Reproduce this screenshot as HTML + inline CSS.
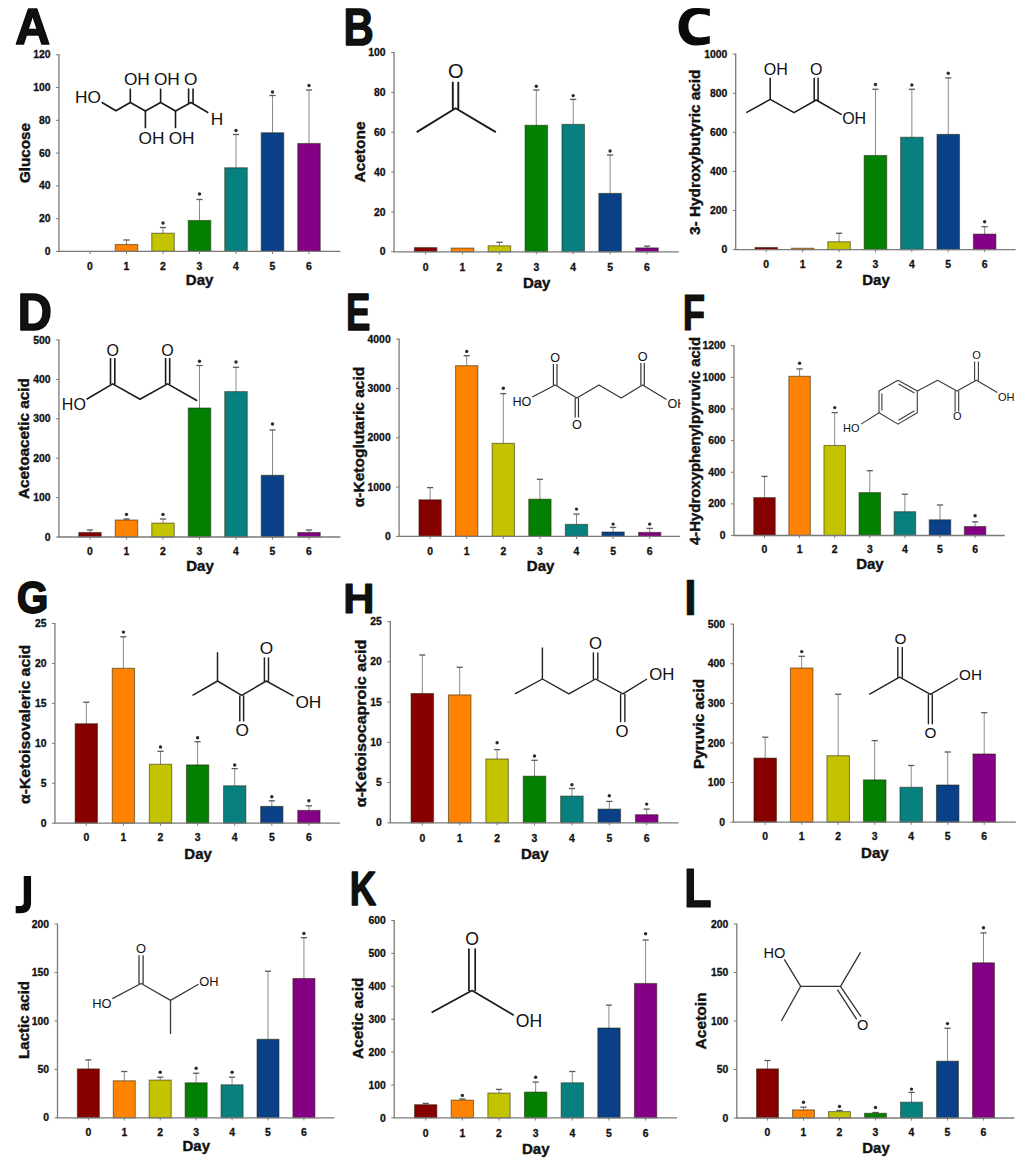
<!DOCTYPE html>
<html><head><meta charset="utf-8"><style>
html,body{margin:0;padding:0;background:#fff;overflow:hidden;width:1024px;height:1163px;}
svg{display:block;}
text{font-family:"Liberation Sans", sans-serif;fill:#111;}
.xl{font-size:10.4px;font-weight:bold;text-anchor:middle;stroke:#111;stroke-width:0.3px;}
.yl{font-size:10.4px;font-weight:bold;text-anchor:end;stroke:#111;stroke-width:0.3px;}
.ast{font-size:10px;font-weight:bold;text-anchor:middle;}
.day{font-size:15px;font-weight:bold;text-anchor:middle;stroke:#111;stroke-width:0.4px;}
.yt{font-size:15.4px;font-weight:bold;text-anchor:middle;stroke:#111;stroke-width:0.4px;}
.lt{font-weight:bold;fill:#000;}
.m{stroke:#111;stroke-width:1.6;fill:none;stroke-linecap:butt;}
.mt{font-size:15px;fill:#111;}
</style></head><body>
<svg width="1024" height="1163" viewBox="0 0 1024 1163">
<defs><clipPath id="clipE"><rect x="340" y="330" width="340.6" height="120"/></clipPath></defs>
<rect width="1024" height="1163" fill="#fff"/>
<g id="pA"><line x1="90" y1="251.4" x2="90" y2="254" stroke="#7a7a7a" stroke-width="1"/>
<text x="90" y="269.6" class="xl">0</text>
<line x1="126.5" y1="244.5" x2="126.5" y2="240" stroke="#8a8a8a" stroke-width="1"/>
<line x1="123.4" y1="240" x2="129.6" y2="240" stroke="#5a5a5a" stroke-width="1.3"/>
<rect x="115.25" y="244.5" width="22.5" height="6.9" fill="#ff8200" stroke="rgba(30,30,0,0.5)" stroke-width="1.1"/>
<line x1="126.5" y1="251.4" x2="126.5" y2="254" stroke="#7a7a7a" stroke-width="1"/>
<text x="126.5" y="269.6" class="xl">1</text>
<line x1="163" y1="233.25" x2="163" y2="227.5" stroke="#8a8a8a" stroke-width="1"/>
<line x1="159.9" y1="227.5" x2="166.1" y2="227.5" stroke="#5a5a5a" stroke-width="1.3"/>
<rect x="151.75" y="233.25" width="22.5" height="18.15" fill="#c4c300" stroke="rgba(30,30,0,0.5)" stroke-width="1.1"/>
<circle cx="163" cy="223" r="1.7" fill="#2a2a2a"/>
<line x1="163" y1="251.4" x2="163" y2="254" stroke="#7a7a7a" stroke-width="1"/>
<text x="163" y="269.6" class="xl">2</text>
<line x1="199.5" y1="220.5" x2="199.5" y2="199.5" stroke="#8a8a8a" stroke-width="1"/>
<line x1="196.4" y1="199.5" x2="202.6" y2="199.5" stroke="#5a5a5a" stroke-width="1.3"/>
<rect x="188.25" y="220.5" width="22.5" height="30.9" fill="#028002" stroke="rgba(30,30,0,0.5)" stroke-width="1.1"/>
<circle cx="199.5" cy="194" r="1.7" fill="#2a2a2a"/>
<line x1="199.5" y1="251.4" x2="199.5" y2="254" stroke="#7a7a7a" stroke-width="1"/>
<text x="199.5" y="269.6" class="xl">3</text>
<line x1="236" y1="167.75" x2="236" y2="134.5" stroke="#8a8a8a" stroke-width="1"/>
<line x1="232.9" y1="134.5" x2="239.1" y2="134.5" stroke="#5a5a5a" stroke-width="1.3"/>
<rect x="224.75" y="167.75" width="22.5" height="83.65" fill="#088080" stroke="rgba(30,30,0,0.5)" stroke-width="1.1"/>
<circle cx="236" cy="130.5" r="1.7" fill="#2a2a2a"/>
<line x1="236" y1="251.4" x2="236" y2="254" stroke="#7a7a7a" stroke-width="1"/>
<text x="236" y="269.6" class="xl">4</text>
<line x1="272.5" y1="132.75" x2="272.5" y2="95.5" stroke="#8a8a8a" stroke-width="1"/>
<line x1="269.4" y1="95.5" x2="275.6" y2="95.5" stroke="#5a5a5a" stroke-width="1.3"/>
<rect x="261.25" y="132.75" width="22.5" height="118.65" fill="#0a4088" stroke="rgba(30,30,0,0.5)" stroke-width="1.1"/>
<circle cx="272.5" cy="92" r="1.7" fill="#2a2a2a"/>
<line x1="272.5" y1="251.4" x2="272.5" y2="254" stroke="#7a7a7a" stroke-width="1"/>
<text x="272.5" y="269.6" class="xl">5</text>
<line x1="309" y1="143.5" x2="309" y2="90" stroke="#8a8a8a" stroke-width="1"/>
<line x1="305.9" y1="90" x2="312.1" y2="90" stroke="#5a5a5a" stroke-width="1.3"/>
<rect x="297.75" y="143.5" width="22.5" height="107.9" fill="#840084" stroke="rgba(30,30,0,0.5)" stroke-width="1.1"/>
<circle cx="309" cy="85.5" r="1.7" fill="#2a2a2a"/>
<line x1="309" y1="251.4" x2="309" y2="254" stroke="#7a7a7a" stroke-width="1"/>
<text x="309" y="269.6" class="xl">6</text>
<line x1="58.95" y1="54.3" x2="58.95" y2="251.4" stroke="#7a7a7a" stroke-width="1.3"/>
<line x1="58.3" y1="251.4" x2="340.4" y2="251.4" stroke="#7a7a7a" stroke-width="1.3"/>
<line x1="55.95" y1="251.4" x2="58.95" y2="251.4" stroke="#7a7a7a" stroke-width="1"/>
<text x="50.55" y="255" class="yl">0</text>
<line x1="55.95" y1="218.63" x2="58.95" y2="218.63" stroke="#7a7a7a" stroke-width="1"/>
<text x="50.55" y="222.23" class="yl">20</text>
<line x1="55.95" y1="185.87" x2="58.95" y2="185.87" stroke="#7a7a7a" stroke-width="1"/>
<text x="50.55" y="189.47" class="yl">40</text>
<line x1="55.95" y1="153.1" x2="58.95" y2="153.1" stroke="#7a7a7a" stroke-width="1"/>
<text x="50.55" y="156.7" class="yl">60</text>
<line x1="55.95" y1="120.33" x2="58.95" y2="120.33" stroke="#7a7a7a" stroke-width="1"/>
<text x="50.55" y="123.93" class="yl">80</text>
<line x1="55.95" y1="87.57" x2="58.95" y2="87.57" stroke="#7a7a7a" stroke-width="1"/>
<text x="50.55" y="91.17" class="yl">100</text>
<line x1="55.95" y1="54.8" x2="58.95" y2="54.8" stroke="#7a7a7a" stroke-width="1"/>
<text x="50.55" y="58.4" class="yl">120</text>
<text x="199.6" y="285" class="day">Day</text>
<text transform="translate(29.8,153) rotate(-90)" x="0" y="0" class="yt" textLength="60" lengthAdjust="spacingAndGlyphs">Glucose</text></g>
<text transform="translate(15.29,43.5) scale(0.964,1)" font-size="50" font-weight="bold" fill="#0a0a0a" stroke="#0a0a0a" stroke-width="1.6" stroke-linejoin="round">A</text>
<g><g fill="none" stroke="#1a1a1a" stroke-width="1.6" stroke-linecap="butt" stroke-linejoin="round"><path d="M101.6,102.2 L115.9,110.8 L130.3,102.5 L145.4,111 L160.6,102.5 L175.5,111 L191,102.5 L208.3,112.7"/><path d="M130.3,102.5 L130.3,88.6"/><path d="M160.6,102.5 L160.6,88.6"/><path d="M145.4,111 L145.4,128.2"/><path d="M175.5,111 L175.5,128.2"/><path d="M188.6,103.5 L188.6,88.4"/><path d="M193.05,103.5 L193.05,88.4"/></g><g fill="#1a1a1a"><text x="75.07" y="103.12" font-size="17.3">HO</text><text x="123.93" y="85.47" font-size="17.3">OH</text><text x="153.93" y="85.47" font-size="17.3">OH</text><text x="183.95" y="85.22" font-size="17.3">O</text><text x="210.87" y="124.52" font-size="17.3">H</text><text x="138.58" y="143.82" font-size="17.3">OH</text><text x="168.68" y="143.82" font-size="17.3">OH</text></g></g>
<g id="pB"><rect x="414.35" y="247.6" width="22.5" height="4.2" fill="#860000" stroke="rgba(30,30,0,0.5)" stroke-width="1.1"/>
<line x1="425.6" y1="251.8" x2="425.6" y2="254.4" stroke="#7a7a7a" stroke-width="1"/>
<text x="425.6" y="270.7" class="xl">0</text>
<rect x="451.25" y="248.1" width="22.5" height="3.7" fill="#ff8200" stroke="rgba(30,30,0,0.5)" stroke-width="1.1"/>
<line x1="462.5" y1="251.8" x2="462.5" y2="254.4" stroke="#7a7a7a" stroke-width="1"/>
<text x="462.5" y="270.7" class="xl">1</text>
<line x1="499.4" y1="245.8" x2="499.4" y2="242.3" stroke="#8a8a8a" stroke-width="1"/>
<line x1="496.3" y1="242.3" x2="502.5" y2="242.3" stroke="#5a5a5a" stroke-width="1.3"/>
<rect x="488.15" y="245.8" width="22.5" height="6" fill="#c4c300" stroke="rgba(30,30,0,0.5)" stroke-width="1.1"/>
<line x1="499.4" y1="251.8" x2="499.4" y2="254.4" stroke="#7a7a7a" stroke-width="1"/>
<text x="499.4" y="270.7" class="xl">2</text>
<line x1="536.3" y1="125.3" x2="536.3" y2="90" stroke="#8a8a8a" stroke-width="1"/>
<line x1="533.2" y1="90" x2="539.4" y2="90" stroke="#5a5a5a" stroke-width="1.3"/>
<rect x="525.05" y="125.3" width="22.5" height="126.5" fill="#028002" stroke="rgba(30,30,0,0.5)" stroke-width="1.1"/>
<circle cx="536.3" cy="86.25" r="1.7" fill="#2a2a2a"/>
<line x1="536.3" y1="251.8" x2="536.3" y2="254.4" stroke="#7a7a7a" stroke-width="1"/>
<text x="536.3" y="270.7" class="xl">3</text>
<line x1="573.2" y1="124.4" x2="573.2" y2="99.4" stroke="#8a8a8a" stroke-width="1"/>
<line x1="570.1" y1="99.4" x2="576.3" y2="99.4" stroke="#5a5a5a" stroke-width="1.3"/>
<rect x="561.95" y="124.4" width="22.5" height="127.4" fill="#088080" stroke="rgba(30,30,0,0.5)" stroke-width="1.1"/>
<circle cx="573.2" cy="95.6" r="1.7" fill="#2a2a2a"/>
<line x1="573.2" y1="251.8" x2="573.2" y2="254.4" stroke="#7a7a7a" stroke-width="1"/>
<text x="573.2" y="270.7" class="xl">4</text>
<line x1="610.1" y1="193.4" x2="610.1" y2="155" stroke="#8a8a8a" stroke-width="1"/>
<line x1="607" y1="155" x2="613.2" y2="155" stroke="#5a5a5a" stroke-width="1.3"/>
<rect x="598.85" y="193.4" width="22.5" height="58.4" fill="#0a4088" stroke="rgba(30,30,0,0.5)" stroke-width="1.1"/>
<circle cx="610.1" cy="151" r="1.7" fill="#2a2a2a"/>
<line x1="610.1" y1="251.8" x2="610.1" y2="254.4" stroke="#7a7a7a" stroke-width="1"/>
<text x="610.1" y="270.7" class="xl">5</text>
<line x1="647" y1="247.9" x2="647" y2="246.1" stroke="#8a8a8a" stroke-width="1"/>
<line x1="643.9" y1="246.1" x2="650.1" y2="246.1" stroke="#5a5a5a" stroke-width="1.3"/>
<rect x="635.75" y="247.9" width="22.5" height="3.9" fill="#840084" stroke="rgba(30,30,0,0.5)" stroke-width="1.1"/>
<line x1="647" y1="251.8" x2="647" y2="254.4" stroke="#7a7a7a" stroke-width="1"/>
<text x="647" y="270.7" class="xl">6</text>
<line x1="394.05" y1="52" x2="394.05" y2="251.8" stroke="#7a7a7a" stroke-width="1.3"/>
<line x1="393.4" y1="251.8" x2="678.8" y2="251.8" stroke="#7a7a7a" stroke-width="1.3"/>
<line x1="391.05" y1="251.8" x2="394.05" y2="251.8" stroke="#7a7a7a" stroke-width="1"/>
<text x="385.65" y="255.4" class="yl">0</text>
<line x1="391.05" y1="211.94" x2="394.05" y2="211.94" stroke="#7a7a7a" stroke-width="1"/>
<text x="385.65" y="215.54" class="yl">20</text>
<line x1="391.05" y1="172.08" x2="394.05" y2="172.08" stroke="#7a7a7a" stroke-width="1"/>
<text x="385.65" y="175.68" class="yl">40</text>
<line x1="391.05" y1="132.22" x2="394.05" y2="132.22" stroke="#7a7a7a" stroke-width="1"/>
<text x="385.65" y="135.82" class="yl">60</text>
<line x1="391.05" y1="92.36" x2="394.05" y2="92.36" stroke="#7a7a7a" stroke-width="1"/>
<text x="385.65" y="95.96" class="yl">80</text>
<line x1="391.05" y1="52.5" x2="394.05" y2="52.5" stroke="#7a7a7a" stroke-width="1"/>
<text x="385.65" y="56.1" class="yl">100</text>
<text x="536.65" y="288.3" class="day">Day</text>
<text transform="translate(365.4,152) rotate(-90)" x="0" y="0" class="yt" textLength="61" lengthAdjust="spacingAndGlyphs">Acetone</text></g>
<text transform="translate(343.47,44.5) scale(0.807,1)" font-size="52.03" font-weight="bold" fill="#0a0a0a" stroke="#0a0a0a" stroke-width="1.4" stroke-linejoin="round">B</text>
<g><g fill="none" stroke="#1a1a1a" stroke-width="1.9" stroke-linecap="butt" stroke-linejoin="round"><path d="M416.7,132.1 L455.6,108.2 L495.8,132.1"/><path d="M452.8,109 L452.8,81.8"/><path d="M458.3,109 L458.3,81.8"/></g><g fill="#1a1a1a"><text x="448.1" y="78.35" font-size="20">O</text></g></g>
<g id="pC"><rect x="755" y="247.5" width="22.5" height="2.1" fill="#860000" stroke="rgba(30,30,0,0.5)" stroke-width="1.1"/>
<line x1="766.25" y1="249.6" x2="766.25" y2="252.2" stroke="#7a7a7a" stroke-width="1"/>
<text x="766.25" y="267.95" class="xl">0</text>
<rect x="791.4" y="248.25" width="22.5" height="1.35" fill="#ff8200" stroke="rgba(30,30,0,0.5)" stroke-width="1.1"/>
<line x1="802.65" y1="249.6" x2="802.65" y2="252.2" stroke="#7a7a7a" stroke-width="1"/>
<text x="802.65" y="267.95" class="xl">1</text>
<line x1="839.05" y1="241.75" x2="839.05" y2="233.25" stroke="#8a8a8a" stroke-width="1"/>
<line x1="835.95" y1="233.25" x2="842.15" y2="233.25" stroke="#5a5a5a" stroke-width="1.3"/>
<rect x="827.8" y="241.75" width="22.5" height="7.85" fill="#c4c300" stroke="rgba(30,30,0,0.5)" stroke-width="1.1"/>
<line x1="839.05" y1="249.6" x2="839.05" y2="252.2" stroke="#7a7a7a" stroke-width="1"/>
<text x="839.05" y="267.95" class="xl">2</text>
<line x1="875.45" y1="155.5" x2="875.45" y2="89.25" stroke="#8a8a8a" stroke-width="1"/>
<line x1="872.35" y1="89.25" x2="878.55" y2="89.25" stroke="#5a5a5a" stroke-width="1.3"/>
<rect x="864.2" y="155.5" width="22.5" height="94.1" fill="#028002" stroke="rgba(30,30,0,0.5)" stroke-width="1.1"/>
<circle cx="875.45" cy="84.5" r="1.7" fill="#2a2a2a"/>
<line x1="875.45" y1="249.6" x2="875.45" y2="252.2" stroke="#7a7a7a" stroke-width="1"/>
<text x="875.45" y="267.95" class="xl">3</text>
<line x1="911.85" y1="137.25" x2="911.85" y2="89.25" stroke="#8a8a8a" stroke-width="1"/>
<line x1="908.75" y1="89.25" x2="914.95" y2="89.25" stroke="#5a5a5a" stroke-width="1.3"/>
<rect x="900.6" y="137.25" width="22.5" height="112.35" fill="#088080" stroke="rgba(30,30,0,0.5)" stroke-width="1.1"/>
<circle cx="911.85" cy="85" r="1.7" fill="#2a2a2a"/>
<line x1="911.85" y1="249.6" x2="911.85" y2="252.2" stroke="#7a7a7a" stroke-width="1"/>
<text x="911.85" y="267.95" class="xl">4</text>
<line x1="948.25" y1="134.4" x2="948.25" y2="77.9" stroke="#8a8a8a" stroke-width="1"/>
<line x1="945.15" y1="77.9" x2="951.35" y2="77.9" stroke="#5a5a5a" stroke-width="1.3"/>
<rect x="937" y="134.4" width="22.5" height="115.2" fill="#0a4088" stroke="rgba(30,30,0,0.5)" stroke-width="1.1"/>
<circle cx="948.25" cy="73.2" r="1.7" fill="#2a2a2a"/>
<line x1="948.25" y1="249.6" x2="948.25" y2="252.2" stroke="#7a7a7a" stroke-width="1"/>
<text x="948.25" y="267.95" class="xl">5</text>
<line x1="984.65" y1="234.1" x2="984.65" y2="226.7" stroke="#8a8a8a" stroke-width="1"/>
<line x1="981.55" y1="226.7" x2="987.75" y2="226.7" stroke="#5a5a5a" stroke-width="1.3"/>
<rect x="973.4" y="234.1" width="22.5" height="15.5" fill="#840084" stroke="rgba(30,30,0,0.5)" stroke-width="1.1"/>
<circle cx="984.65" cy="221.7" r="1.7" fill="#2a2a2a"/>
<line x1="984.65" y1="249.6" x2="984.65" y2="252.2" stroke="#7a7a7a" stroke-width="1"/>
<text x="984.65" y="267.95" class="xl">6</text>
<line x1="735.7" y1="53.6" x2="735.7" y2="249.6" stroke="#7a7a7a" stroke-width="1.3"/>
<line x1="735.05" y1="249.6" x2="1015.6" y2="249.6" stroke="#7a7a7a" stroke-width="1.3"/>
<line x1="732.7" y1="249.6" x2="735.7" y2="249.6" stroke="#7a7a7a" stroke-width="1"/>
<text x="727.3" y="253.2" class="yl">0</text>
<line x1="732.7" y1="210.5" x2="735.7" y2="210.5" stroke="#7a7a7a" stroke-width="1"/>
<text x="727.3" y="214.1" class="yl">200</text>
<line x1="732.7" y1="171.4" x2="735.7" y2="171.4" stroke="#7a7a7a" stroke-width="1"/>
<text x="727.3" y="175" class="yl">400</text>
<line x1="732.7" y1="132.3" x2="735.7" y2="132.3" stroke="#7a7a7a" stroke-width="1"/>
<text x="727.3" y="135.9" class="yl">600</text>
<line x1="732.7" y1="93.2" x2="735.7" y2="93.2" stroke="#7a7a7a" stroke-width="1"/>
<text x="727.3" y="96.8" class="yl">800</text>
<line x1="732.7" y1="54.1" x2="735.7" y2="54.1" stroke="#7a7a7a" stroke-width="1"/>
<text x="727.3" y="57.7" class="yl">1000</text>
<text x="876" y="285.1" class="day">Day</text>
<text transform="translate(700.15,152.25) rotate(-90)" x="0" y="0" class="yt" textLength="165.5" lengthAdjust="spacingAndGlyphs">3- Hydroxybutyric acid</text></g>
<path d="M709.8,8.9 C705,8 700,7.9 695.5,7.9 C685,7.9 678.5,15.5 678.5,26.7 C678.5,38.5 686,45.4 696,45.4 C701,45.4 706,44.7 709.8,43.5 L709.8,36.1 C707,37 703,37.5 699.5,37.5 C692.5,37.5 688.4,33 688.4,26.2 C688.4,19 692.8,14.1 699.5,14.1 C703,14.1 706.5,14.8 709.8,16.2 Z" fill="#0a0a0a"/>
<g><g fill="none" stroke="#1a1a1a" stroke-width="1.5" stroke-linecap="butt" stroke-linejoin="round"><path d="M746.3,112.7 L770.2,99.4 L794,112.7 L816.2,100 L841.6,114.6"/><path d="M770.2,99.4 L770.2,77.8"/><path d="M814.2,101 L814.2,77.7"/><path d="M818.1,101 L818.1,77.7"/></g><g fill="#1a1a1a"><text x="763.83" y="74.72" font-size="16">OH</text><text x="810.1" y="74.57" font-size="16">O</text><text x="842.18" y="124.22" font-size="16">OH</text></g></g>
<g id="pD"><line x1="90" y1="532.5" x2="90" y2="530" stroke="#8a8a8a" stroke-width="1"/>
<line x1="86.9" y1="530" x2="93.1" y2="530" stroke="#5a5a5a" stroke-width="1.3"/>
<rect x="78.75" y="532.5" width="22.5" height="4.5" fill="#860000" stroke="rgba(30,30,0,0.5)" stroke-width="1.1"/>
<line x1="90" y1="537" x2="90" y2="539.6" stroke="#7a7a7a" stroke-width="1"/>
<text x="90" y="554.85" class="xl">0</text>
<line x1="126.5" y1="520" x2="126.5" y2="519" stroke="#8a8a8a" stroke-width="1"/>
<line x1="123.4" y1="519" x2="129.6" y2="519" stroke="#5a5a5a" stroke-width="1.3"/>
<rect x="115.25" y="520" width="22.5" height="17" fill="#ff8200" stroke="rgba(30,30,0,0.5)" stroke-width="1.1"/>
<circle cx="126.5" cy="514.4" r="1.7" fill="#2a2a2a"/>
<line x1="126.5" y1="537" x2="126.5" y2="539.6" stroke="#7a7a7a" stroke-width="1"/>
<text x="126.5" y="554.85" class="xl">1</text>
<line x1="163" y1="523.1" x2="163" y2="519" stroke="#8a8a8a" stroke-width="1"/>
<line x1="159.9" y1="519" x2="166.1" y2="519" stroke="#5a5a5a" stroke-width="1.3"/>
<rect x="151.75" y="523.1" width="22.5" height="13.9" fill="#c4c300" stroke="rgba(30,30,0,0.5)" stroke-width="1.1"/>
<circle cx="163" cy="514.4" r="1.7" fill="#2a2a2a"/>
<line x1="163" y1="537" x2="163" y2="539.6" stroke="#7a7a7a" stroke-width="1"/>
<text x="163" y="554.85" class="xl">2</text>
<line x1="199.5" y1="408" x2="199.5" y2="365.5" stroke="#8a8a8a" stroke-width="1"/>
<line x1="196.4" y1="365.5" x2="202.6" y2="365.5" stroke="#5a5a5a" stroke-width="1.3"/>
<rect x="188.25" y="408" width="22.5" height="129" fill="#028002" stroke="rgba(30,30,0,0.5)" stroke-width="1.1"/>
<circle cx="199.5" cy="361.3" r="1.7" fill="#2a2a2a"/>
<line x1="199.5" y1="537" x2="199.5" y2="539.6" stroke="#7a7a7a" stroke-width="1"/>
<text x="199.5" y="554.85" class="xl">3</text>
<line x1="236" y1="391.6" x2="236" y2="367.3" stroke="#8a8a8a" stroke-width="1"/>
<line x1="232.9" y1="367.3" x2="239.1" y2="367.3" stroke="#5a5a5a" stroke-width="1.3"/>
<rect x="224.75" y="391.6" width="22.5" height="145.4" fill="#088080" stroke="rgba(30,30,0,0.5)" stroke-width="1.1"/>
<circle cx="236" cy="362" r="1.7" fill="#2a2a2a"/>
<line x1="236" y1="537" x2="236" y2="539.6" stroke="#7a7a7a" stroke-width="1"/>
<text x="236" y="554.85" class="xl">4</text>
<line x1="272.5" y1="475.3" x2="272.5" y2="430" stroke="#8a8a8a" stroke-width="1"/>
<line x1="269.4" y1="430" x2="275.6" y2="430" stroke="#5a5a5a" stroke-width="1.3"/>
<rect x="261.25" y="475.3" width="22.5" height="61.7" fill="#0a4088" stroke="rgba(30,30,0,0.5)" stroke-width="1.1"/>
<circle cx="272.5" cy="424" r="1.7" fill="#2a2a2a"/>
<line x1="272.5" y1="537" x2="272.5" y2="539.6" stroke="#7a7a7a" stroke-width="1"/>
<text x="272.5" y="554.85" class="xl">5</text>
<line x1="309" y1="532.5" x2="309" y2="530" stroke="#8a8a8a" stroke-width="1"/>
<line x1="305.9" y1="530" x2="312.1" y2="530" stroke="#5a5a5a" stroke-width="1.3"/>
<rect x="297.75" y="532.5" width="22.5" height="4.5" fill="#840084" stroke="rgba(30,30,0,0.5)" stroke-width="1.1"/>
<line x1="309" y1="537" x2="309" y2="539.6" stroke="#7a7a7a" stroke-width="1"/>
<text x="309" y="554.85" class="xl">6</text>
<line x1="58.95" y1="339.5" x2="58.95" y2="537" stroke="#7a7a7a" stroke-width="1.3"/>
<line x1="58.3" y1="537" x2="340.4" y2="537" stroke="#7a7a7a" stroke-width="1.3"/>
<line x1="55.95" y1="537" x2="58.95" y2="537" stroke="#7a7a7a" stroke-width="1"/>
<text x="50.55" y="540.6" class="yl">0</text>
<line x1="55.95" y1="497.6" x2="58.95" y2="497.6" stroke="#7a7a7a" stroke-width="1"/>
<text x="50.55" y="501.2" class="yl">100</text>
<line x1="55.95" y1="458.2" x2="58.95" y2="458.2" stroke="#7a7a7a" stroke-width="1"/>
<text x="50.55" y="461.8" class="yl">200</text>
<line x1="55.95" y1="418.8" x2="58.95" y2="418.8" stroke="#7a7a7a" stroke-width="1"/>
<text x="50.55" y="422.4" class="yl">300</text>
<line x1="55.95" y1="379.4" x2="58.95" y2="379.4" stroke="#7a7a7a" stroke-width="1"/>
<text x="50.55" y="383" class="yl">400</text>
<line x1="55.95" y1="340" x2="58.95" y2="340" stroke="#7a7a7a" stroke-width="1"/>
<text x="50.55" y="343.6" class="yl">500</text>
<text x="200" y="571.2" class="day">Day</text>
<text transform="translate(28.6,438.6) rotate(-90)" x="0" y="0" class="yt" textLength="121" lengthAdjust="spacingAndGlyphs">Acetoacetic acid</text></g>
<text transform="translate(17.72,329.7) scale(0.922,1)" font-size="51.3" font-weight="bold" fill="#0a0a0a" stroke="#0a0a0a" stroke-width="1.6" stroke-linejoin="round">D</text>
<g><g fill="none" stroke="#1a1a1a" stroke-width="1.6" stroke-linecap="butt" stroke-linejoin="round"><path d="M86.6,399.3 L112.7,383.9 L140,399.3 L167.6,383.9 L197.2,400.8"/><path d="M110.5,384.5 L110.5,358"/><path d="M114.8,384.5 L114.8,358"/><path d="M165.6,384.5 L165.6,358"/><path d="M169.7,384.5 L169.7,358"/></g><g fill="#1a1a1a"><text x="106.55" y="355.67" font-size="16">O</text><text x="161.3" y="355.67" font-size="16">O</text><text x="61.86" y="409.97" font-size="16">HO</text></g></g>
<g id="pE"><line x1="430.1" y1="499.8" x2="430.1" y2="487.6" stroke="#8a8a8a" stroke-width="1"/>
<line x1="427" y1="487.6" x2="433.2" y2="487.6" stroke="#5a5a5a" stroke-width="1.3"/>
<rect x="418.95" y="499.8" width="22.3" height="36.6" fill="#860000" stroke="rgba(30,30,0,0.5)" stroke-width="1.1"/>
<line x1="430.1" y1="536.4" x2="430.1" y2="539" stroke="#7a7a7a" stroke-width="1"/>
<text x="430.1" y="554.6" class="xl">0</text>
<line x1="466.7" y1="365.7" x2="466.7" y2="355.7" stroke="#8a8a8a" stroke-width="1"/>
<line x1="463.6" y1="355.7" x2="469.8" y2="355.7" stroke="#5a5a5a" stroke-width="1.3"/>
<rect x="455.55" y="365.7" width="22.3" height="170.7" fill="#ff8200" stroke="rgba(30,30,0,0.5)" stroke-width="1.1"/>
<circle cx="466.7" cy="351.4" r="1.7" fill="#2a2a2a"/>
<line x1="466.7" y1="536.4" x2="466.7" y2="539" stroke="#7a7a7a" stroke-width="1"/>
<text x="466.7" y="554.6" class="xl">1</text>
<line x1="503.3" y1="443.4" x2="503.3" y2="393.6" stroke="#8a8a8a" stroke-width="1"/>
<line x1="500.2" y1="393.6" x2="506.4" y2="393.6" stroke="#5a5a5a" stroke-width="1.3"/>
<rect x="492.15" y="443.4" width="22.3" height="93" fill="#c4c300" stroke="rgba(30,30,0,0.5)" stroke-width="1.1"/>
<circle cx="503.3" cy="388.3" r="1.7" fill="#2a2a2a"/>
<line x1="503.3" y1="536.4" x2="503.3" y2="539" stroke="#7a7a7a" stroke-width="1"/>
<text x="503.3" y="554.6" class="xl">2</text>
<line x1="539.9" y1="499.2" x2="539.9" y2="479.3" stroke="#8a8a8a" stroke-width="1"/>
<line x1="536.8" y1="479.3" x2="543" y2="479.3" stroke="#5a5a5a" stroke-width="1.3"/>
<rect x="528.75" y="499.2" width="22.3" height="37.2" fill="#028002" stroke="rgba(30,30,0,0.5)" stroke-width="1.1"/>
<line x1="539.9" y1="536.4" x2="539.9" y2="539" stroke="#7a7a7a" stroke-width="1"/>
<text x="539.9" y="554.6" class="xl">3</text>
<line x1="576.5" y1="524.4" x2="576.5" y2="514.1" stroke="#8a8a8a" stroke-width="1"/>
<line x1="573.4" y1="514.1" x2="579.6" y2="514.1" stroke="#5a5a5a" stroke-width="1.3"/>
<rect x="565.35" y="524.4" width="22.3" height="12" fill="#088080" stroke="rgba(30,30,0,0.5)" stroke-width="1.1"/>
<circle cx="576.5" cy="509.1" r="1.7" fill="#2a2a2a"/>
<line x1="576.5" y1="536.4" x2="576.5" y2="539" stroke="#7a7a7a" stroke-width="1"/>
<text x="576.5" y="554.6" class="xl">4</text>
<line x1="613.1" y1="532" x2="613.1" y2="527.4" stroke="#8a8a8a" stroke-width="1"/>
<line x1="610" y1="527.4" x2="616.2" y2="527.4" stroke="#5a5a5a" stroke-width="1.3"/>
<rect x="601.95" y="532" width="22.3" height="4.4" fill="#0a4088" stroke="rgba(30,30,0,0.5)" stroke-width="1.1"/>
<circle cx="613.1" cy="524.1" r="1.7" fill="#2a2a2a"/>
<line x1="613.1" y1="536.4" x2="613.1" y2="539" stroke="#7a7a7a" stroke-width="1"/>
<text x="613.1" y="554.6" class="xl">5</text>
<line x1="649.7" y1="532.4" x2="649.7" y2="528.4" stroke="#8a8a8a" stroke-width="1"/>
<line x1="646.6" y1="528.4" x2="652.8" y2="528.4" stroke="#5a5a5a" stroke-width="1.3"/>
<rect x="638.55" y="532.4" width="22.3" height="4" fill="#840084" stroke="rgba(30,30,0,0.5)" stroke-width="1.1"/>
<circle cx="649.7" cy="524.1" r="1.7" fill="#2a2a2a"/>
<line x1="649.7" y1="536.4" x2="649.7" y2="539" stroke="#7a7a7a" stroke-width="1"/>
<text x="649.7" y="554.6" class="xl">6</text>
<line x1="399.1" y1="338.6" x2="399.1" y2="536.4" stroke="#7a7a7a" stroke-width="1.3"/>
<line x1="398.45" y1="536.4" x2="680.1" y2="536.4" stroke="#7a7a7a" stroke-width="1.3"/>
<line x1="396.1" y1="536.4" x2="399.1" y2="536.4" stroke="#7a7a7a" stroke-width="1"/>
<text x="390.7" y="540" class="yl">0</text>
<line x1="396.1" y1="487.07" x2="399.1" y2="487.07" stroke="#7a7a7a" stroke-width="1"/>
<text x="390.7" y="490.68" class="yl">1000</text>
<line x1="396.1" y1="437.75" x2="399.1" y2="437.75" stroke="#7a7a7a" stroke-width="1"/>
<text x="390.7" y="441.35" class="yl">2000</text>
<line x1="396.1" y1="388.43" x2="399.1" y2="388.43" stroke="#7a7a7a" stroke-width="1"/>
<text x="390.7" y="392.03" class="yl">3000</text>
<line x1="396.1" y1="339.1" x2="399.1" y2="339.1" stroke="#7a7a7a" stroke-width="1"/>
<text x="390.7" y="342.7" class="yl">4000</text>
<text x="540.6" y="571" class="day">Day</text>
<text transform="translate(363.7,437) rotate(-90)" x="0" y="0" class="yt" textLength="140.5" lengthAdjust="spacingAndGlyphs">α-Ketoglutaric acid</text></g>
<text transform="translate(345.97,329.5) scale(0.714,1)" font-size="51.16" font-weight="bold" fill="#0a0a0a" stroke="#0a0a0a" stroke-width="1.4" stroke-linejoin="round">E</text>
<g clip-path="url(#clipE)"><g fill="none" stroke="#333" stroke-width="1.2" stroke-linecap="butt" stroke-linejoin="round"><path d="M532.3,397 L555.2,385 L576.8,397.9 L599,385 L621.2,397.9 L642.6,385 L666.5,399.6"/><path d="M553.4,385.6 L553.4,364.1"/><path d="M557,385.6 L557,364.1"/><path d="M575.2,397.9 L575.2,417.5"/><path d="M578.5,397.9 L578.5,417.5"/><path d="M640.9,385.6 L640.9,363"/><path d="M644.3,385.6 L644.3,363"/></g><g fill="#333"><text x="550.22" y="361.55" font-size="12.6">O</text><text x="637.72" y="360.65" font-size="12.6">O</text><text x="572.12" y="428.5" font-size="12.6">O</text><text x="512.46" y="405.9" font-size="12.6">HO</text><text x="667.47" y="407.55" font-size="12.6">OH</text></g></g>
<g id="pF"><line x1="764.5" y1="497.6" x2="764.5" y2="476.4" stroke="#8a8a8a" stroke-width="1"/>
<line x1="761.4" y1="476.4" x2="767.6" y2="476.4" stroke="#5a5a5a" stroke-width="1.3"/>
<rect x="753.75" y="497.6" width="21.5" height="37.9" fill="#860000" stroke="rgba(30,30,0,0.5)" stroke-width="1.1"/>
<line x1="764.5" y1="535.5" x2="764.5" y2="538.1" stroke="#7a7a7a" stroke-width="1"/>
<text x="764.5" y="553.15" class="xl">0</text>
<line x1="799.6" y1="376.3" x2="799.6" y2="368.9" stroke="#8a8a8a" stroke-width="1"/>
<line x1="796.5" y1="368.9" x2="802.7" y2="368.9" stroke="#5a5a5a" stroke-width="1.3"/>
<rect x="788.85" y="376.3" width="21.5" height="159.2" fill="#ff8200" stroke="rgba(30,30,0,0.5)" stroke-width="1.1"/>
<circle cx="799.6" cy="363.2" r="1.7" fill="#2a2a2a"/>
<line x1="799.6" y1="535.5" x2="799.6" y2="538.1" stroke="#7a7a7a" stroke-width="1"/>
<text x="799.6" y="553.15" class="xl">1</text>
<line x1="834.7" y1="445.5" x2="834.7" y2="412.6" stroke="#8a8a8a" stroke-width="1"/>
<line x1="831.6" y1="412.6" x2="837.8" y2="412.6" stroke="#5a5a5a" stroke-width="1.3"/>
<rect x="823.95" y="445.5" width="21.5" height="90" fill="#c4c300" stroke="rgba(30,30,0,0.5)" stroke-width="1.1"/>
<circle cx="834.7" cy="407.6" r="1.7" fill="#2a2a2a"/>
<line x1="834.7" y1="535.5" x2="834.7" y2="538.1" stroke="#7a7a7a" stroke-width="1"/>
<text x="834.7" y="553.15" class="xl">2</text>
<line x1="869.8" y1="492.6" x2="869.8" y2="470.7" stroke="#8a8a8a" stroke-width="1"/>
<line x1="866.7" y1="470.7" x2="872.9" y2="470.7" stroke="#5a5a5a" stroke-width="1.3"/>
<rect x="859.05" y="492.6" width="21.5" height="42.9" fill="#028002" stroke="rgba(30,30,0,0.5)" stroke-width="1.1"/>
<line x1="869.8" y1="535.5" x2="869.8" y2="538.1" stroke="#7a7a7a" stroke-width="1"/>
<text x="869.8" y="553.15" class="xl">3</text>
<line x1="904.9" y1="511.7" x2="904.9" y2="494.2" stroke="#8a8a8a" stroke-width="1"/>
<line x1="901.8" y1="494.2" x2="908" y2="494.2" stroke="#5a5a5a" stroke-width="1.3"/>
<rect x="894.15" y="511.7" width="21.5" height="23.8" fill="#088080" stroke="rgba(30,30,0,0.5)" stroke-width="1.1"/>
<line x1="904.9" y1="535.5" x2="904.9" y2="538.1" stroke="#7a7a7a" stroke-width="1"/>
<text x="904.9" y="553.15" class="xl">4</text>
<line x1="940" y1="519.8" x2="940" y2="505" stroke="#8a8a8a" stroke-width="1"/>
<line x1="936.9" y1="505" x2="943.1" y2="505" stroke="#5a5a5a" stroke-width="1.3"/>
<rect x="929.25" y="519.8" width="21.5" height="15.7" fill="#0a4088" stroke="rgba(30,30,0,0.5)" stroke-width="1.1"/>
<line x1="940" y1="535.5" x2="940" y2="538.1" stroke="#7a7a7a" stroke-width="1"/>
<text x="940" y="553.15" class="xl">5</text>
<line x1="975.1" y1="526.5" x2="975.1" y2="521.8" stroke="#8a8a8a" stroke-width="1"/>
<line x1="972" y1="521.8" x2="978.2" y2="521.8" stroke="#5a5a5a" stroke-width="1.3"/>
<rect x="964.35" y="526.5" width="21.5" height="9" fill="#840084" stroke="rgba(30,30,0,0.5)" stroke-width="1.1"/>
<circle cx="975.1" cy="515.7" r="1.7" fill="#2a2a2a"/>
<line x1="975.1" y1="535.5" x2="975.1" y2="538.1" stroke="#7a7a7a" stroke-width="1"/>
<text x="975.1" y="553.15" class="xl">6</text>
<line x1="734" y1="345.25" x2="734" y2="535.5" stroke="#7a7a7a" stroke-width="1.3"/>
<line x1="733.35" y1="535.5" x2="1004.8" y2="535.5" stroke="#7a7a7a" stroke-width="1.3"/>
<line x1="731" y1="535.5" x2="734" y2="535.5" stroke="#7a7a7a" stroke-width="1"/>
<text x="725.6" y="539.1" class="yl">0</text>
<line x1="731" y1="503.88" x2="734" y2="503.88" stroke="#7a7a7a" stroke-width="1"/>
<text x="725.6" y="507.48" class="yl">200</text>
<line x1="731" y1="472.25" x2="734" y2="472.25" stroke="#7a7a7a" stroke-width="1"/>
<text x="725.6" y="475.85" class="yl">400</text>
<line x1="731" y1="440.62" x2="734" y2="440.62" stroke="#7a7a7a" stroke-width="1"/>
<text x="725.6" y="444.23" class="yl">600</text>
<line x1="731" y1="409" x2="734" y2="409" stroke="#7a7a7a" stroke-width="1"/>
<text x="725.6" y="412.6" class="yl">800</text>
<line x1="731" y1="377.38" x2="734" y2="377.38" stroke="#7a7a7a" stroke-width="1"/>
<text x="725.6" y="380.98" class="yl">1000</text>
<line x1="731" y1="345.75" x2="734" y2="345.75" stroke="#7a7a7a" stroke-width="1"/>
<text x="725.6" y="349.35" class="yl">1200</text>
<text x="869.95" y="568.8" class="day">Day</text>
<text transform="translate(700.4,441) rotate(-90)" x="0" y="0" class="yt" textLength="208" lengthAdjust="spacingAndGlyphs">4-Hydroxyphenylpyruvic acid</text></g>
<text transform="translate(682.72,329.6) scale(0.724,1)" font-size="50.51" font-weight="bold" fill="#0a0a0a" stroke="#0a0a0a" stroke-width="1.2" stroke-linejoin="round">F</text>
<g><g fill="none" stroke="#3a3a3a" stroke-width="1.1" stroke-linecap="butt" stroke-linejoin="round"><path d="M898,380.2 L917.3,391.1 L917.3,412.7 L898,424.1 L879,412.7 L879,391.1 L898,380.2"/><path d="M898.5,383.9 L914.5,393"/><path d="M914.5,410.8 L898.5,420.3"/><path d="M881.9,393.5 L881.9,410.5"/><path d="M879,412.7 L861.1,424.1"/><path d="M917.3,391.1 L937.6,380.2 L956.9,391.1 L976.4,380.2 L997.3,392.5"/><path d="M955.1,391.1 L955.1,411.8"/><path d="M958.7,391.1 L958.7,411.8"/><path d="M974.6,380.8 L974.6,361.4"/><path d="M978.4,380.8 L978.4,361.4"/></g><g fill="#3a3a3a"><text x="842.99" y="431.85" font-size="11">HO</text><text x="953.09" y="420.25" font-size="11">O</text><text x="972.34" y="358.69" font-size="11">O</text><text x="998.04" y="400.9" font-size="11">OH</text></g></g>
<g id="pG"><line x1="86.3" y1="723.7" x2="86.3" y2="702.2" stroke="#8a8a8a" stroke-width="1"/>
<line x1="83.2" y1="702.2" x2="89.4" y2="702.2" stroke="#5a5a5a" stroke-width="1.3"/>
<rect x="75.15" y="723.7" width="22.3" height="99.5" fill="#860000" stroke="rgba(30,30,0,0.5)" stroke-width="1.1"/>
<line x1="86.3" y1="823.2" x2="86.3" y2="825.8" stroke="#7a7a7a" stroke-width="1"/>
<text x="86.3" y="841.35" class="xl">0</text>
<line x1="123.4" y1="668.3" x2="123.4" y2="636.8" stroke="#8a8a8a" stroke-width="1"/>
<line x1="120.3" y1="636.8" x2="126.5" y2="636.8" stroke="#5a5a5a" stroke-width="1.3"/>
<rect x="112.25" y="668.3" width="22.3" height="154.9" fill="#ff8200" stroke="rgba(30,30,0,0.5)" stroke-width="1.1"/>
<circle cx="123.4" cy="632.1" r="1.7" fill="#2a2a2a"/>
<line x1="123.4" y1="823.2" x2="123.4" y2="825.8" stroke="#7a7a7a" stroke-width="1"/>
<text x="123.4" y="841.35" class="xl">1</text>
<line x1="160.5" y1="764.3" x2="160.5" y2="751.3" stroke="#8a8a8a" stroke-width="1"/>
<line x1="157.4" y1="751.3" x2="163.6" y2="751.3" stroke="#5a5a5a" stroke-width="1.3"/>
<rect x="149.35" y="764.3" width="22.3" height="58.9" fill="#c4c300" stroke="rgba(30,30,0,0.5)" stroke-width="1.1"/>
<circle cx="160.5" cy="747" r="1.7" fill="#2a2a2a"/>
<line x1="160.5" y1="823.2" x2="160.5" y2="825.8" stroke="#7a7a7a" stroke-width="1"/>
<text x="160.5" y="841.35" class="xl">2</text>
<line x1="197.6" y1="764.9" x2="197.6" y2="741.7" stroke="#8a8a8a" stroke-width="1"/>
<line x1="194.5" y1="741.7" x2="200.7" y2="741.7" stroke="#5a5a5a" stroke-width="1.3"/>
<rect x="186.45" y="764.9" width="22.3" height="58.3" fill="#028002" stroke="rgba(30,30,0,0.5)" stroke-width="1.1"/>
<circle cx="197.6" cy="737.7" r="1.7" fill="#2a2a2a"/>
<line x1="197.6" y1="823.2" x2="197.6" y2="825.8" stroke="#7a7a7a" stroke-width="1"/>
<text x="197.6" y="841.35" class="xl">3</text>
<line x1="234.7" y1="785.8" x2="234.7" y2="768.6" stroke="#8a8a8a" stroke-width="1"/>
<line x1="231.6" y1="768.6" x2="237.8" y2="768.6" stroke="#5a5a5a" stroke-width="1.3"/>
<rect x="223.55" y="785.8" width="22.3" height="37.4" fill="#088080" stroke="rgba(30,30,0,0.5)" stroke-width="1.1"/>
<circle cx="234.7" cy="765" r="1.7" fill="#2a2a2a"/>
<line x1="234.7" y1="823.2" x2="234.7" y2="825.8" stroke="#7a7a7a" stroke-width="1"/>
<text x="234.7" y="841.35" class="xl">4</text>
<line x1="271.8" y1="806.4" x2="271.8" y2="800.8" stroke="#8a8a8a" stroke-width="1"/>
<line x1="268.7" y1="800.8" x2="274.9" y2="800.8" stroke="#5a5a5a" stroke-width="1.3"/>
<rect x="260.65" y="806.4" width="22.3" height="16.8" fill="#0a4088" stroke="rgba(30,30,0,0.5)" stroke-width="1.1"/>
<circle cx="271.8" cy="796.8" r="1.7" fill="#2a2a2a"/>
<line x1="271.8" y1="823.2" x2="271.8" y2="825.8" stroke="#7a7a7a" stroke-width="1"/>
<text x="271.8" y="841.35" class="xl">5</text>
<line x1="308.9" y1="810.4" x2="308.9" y2="805.8" stroke="#8a8a8a" stroke-width="1"/>
<line x1="305.8" y1="805.8" x2="312" y2="805.8" stroke="#5a5a5a" stroke-width="1.3"/>
<rect x="297.75" y="810.4" width="22.3" height="12.8" fill="#840084" stroke="rgba(30,30,0,0.5)" stroke-width="1.1"/>
<circle cx="308.9" cy="800.8" r="1.7" fill="#2a2a2a"/>
<line x1="308.9" y1="823.2" x2="308.9" y2="825.8" stroke="#7a7a7a" stroke-width="1"/>
<text x="308.9" y="841.35" class="xl">6</text>
<line x1="54.95" y1="623" x2="54.95" y2="823.2" stroke="#7a7a7a" stroke-width="1.3"/>
<line x1="54.3" y1="823.2" x2="340.1" y2="823.2" stroke="#7a7a7a" stroke-width="1.3"/>
<line x1="51.95" y1="823.2" x2="54.95" y2="823.2" stroke="#7a7a7a" stroke-width="1"/>
<text x="46.55" y="826.8" class="yl">0</text>
<line x1="51.95" y1="783.26" x2="54.95" y2="783.26" stroke="#7a7a7a" stroke-width="1"/>
<text x="46.55" y="786.86" class="yl">5</text>
<line x1="51.95" y1="743.32" x2="54.95" y2="743.32" stroke="#7a7a7a" stroke-width="1"/>
<text x="46.55" y="746.92" class="yl">10</text>
<line x1="51.95" y1="703.38" x2="54.95" y2="703.38" stroke="#7a7a7a" stroke-width="1"/>
<text x="46.55" y="706.98" class="yl">15</text>
<line x1="51.95" y1="663.44" x2="54.95" y2="663.44" stroke="#7a7a7a" stroke-width="1"/>
<text x="46.55" y="667.04" class="yl">20</text>
<line x1="51.95" y1="623.5" x2="54.95" y2="623.5" stroke="#7a7a7a" stroke-width="1"/>
<text x="46.55" y="627.1" class="yl">25</text>
<text x="198.1" y="858.75" class="day">Day</text>
<text transform="translate(30.3,724.4) rotate(-90)" x="0" y="0" class="yt" textLength="159.4" lengthAdjust="spacingAndGlyphs">α-Ketoisovaleric acid</text></g>
<text transform="translate(17.09,612.95) scale(0.888,1)" font-size="45.21" font-weight="bold" fill="#0a0a0a" stroke="#0a0a0a" stroke-width="1.8" stroke-linejoin="round">G</text>
<g><g fill="none" stroke="#222" stroke-width="1.5" stroke-linecap="butt" stroke-linejoin="round"><path d="M192.5,695.4 L217.5,681 L241.7,695.4 L266.3,681 L293.7,696.1"/><path d="M217.5,681 L217.5,652.3"/><path d="M239.8,695.4 L239.8,721.4"/><path d="M243.6,695.4 L243.6,721.4"/><path d="M264.4,681.6 L264.4,657.4"/><path d="M268.5,681.6 L268.5,657.4"/></g><g fill="#222"><text x="235.4" y="736.22" font-size="17.3">O</text><text x="259.75" y="654.42" font-size="17.3">O</text><text x="295.38" y="707.52" font-size="17.3">OH</text></g></g>
<g id="pH"><line x1="422.3" y1="693.5" x2="422.3" y2="655" stroke="#8a8a8a" stroke-width="1"/>
<line x1="419.2" y1="655" x2="425.4" y2="655" stroke="#5a5a5a" stroke-width="1.3"/>
<rect x="411.05" y="693.5" width="22.5" height="129.3" fill="#860000" stroke="rgba(30,30,0,0.5)" stroke-width="1.1"/>
<line x1="422.3" y1="822.8" x2="422.3" y2="825.4" stroke="#7a7a7a" stroke-width="1"/>
<text x="422.3" y="841.6" class="xl">0</text>
<line x1="459.7" y1="694.9" x2="459.7" y2="667.3" stroke="#8a8a8a" stroke-width="1"/>
<line x1="456.6" y1="667.3" x2="462.8" y2="667.3" stroke="#5a5a5a" stroke-width="1.3"/>
<rect x="448.45" y="694.9" width="22.5" height="127.9" fill="#ff8200" stroke="rgba(30,30,0,0.5)" stroke-width="1.1"/>
<line x1="459.7" y1="822.8" x2="459.7" y2="825.4" stroke="#7a7a7a" stroke-width="1"/>
<text x="459.7" y="841.6" class="xl">1</text>
<line x1="497.1" y1="759" x2="497.1" y2="749.6" stroke="#8a8a8a" stroke-width="1"/>
<line x1="494" y1="749.6" x2="500.2" y2="749.6" stroke="#5a5a5a" stroke-width="1.3"/>
<rect x="485.85" y="759" width="22.5" height="63.8" fill="#c4c300" stroke="rgba(30,30,0,0.5)" stroke-width="1.1"/>
<circle cx="497.1" cy="742.7" r="1.7" fill="#2a2a2a"/>
<line x1="497.1" y1="822.8" x2="497.1" y2="825.4" stroke="#7a7a7a" stroke-width="1"/>
<text x="497.1" y="841.6" class="xl">2</text>
<line x1="534.5" y1="776.2" x2="534.5" y2="760.3" stroke="#8a8a8a" stroke-width="1"/>
<line x1="531.4" y1="760.3" x2="537.6" y2="760.3" stroke="#5a5a5a" stroke-width="1.3"/>
<rect x="523.25" y="776.2" width="22.5" height="46.6" fill="#028002" stroke="rgba(30,30,0,0.5)" stroke-width="1.1"/>
<circle cx="534.5" cy="756" r="1.7" fill="#2a2a2a"/>
<line x1="534.5" y1="822.8" x2="534.5" y2="825.4" stroke="#7a7a7a" stroke-width="1"/>
<text x="534.5" y="841.6" class="xl">3</text>
<line x1="571.9" y1="796.1" x2="571.9" y2="788.5" stroke="#8a8a8a" stroke-width="1"/>
<line x1="568.8" y1="788.5" x2="575" y2="788.5" stroke="#5a5a5a" stroke-width="1.3"/>
<rect x="560.65" y="796.1" width="22.5" height="26.7" fill="#088080" stroke="rgba(30,30,0,0.5)" stroke-width="1.1"/>
<circle cx="571.9" cy="784.8" r="1.7" fill="#2a2a2a"/>
<line x1="571.9" y1="822.8" x2="571.9" y2="825.4" stroke="#7a7a7a" stroke-width="1"/>
<text x="571.9" y="841.6" class="xl">4</text>
<line x1="609.3" y1="809.1" x2="609.3" y2="801.4" stroke="#8a8a8a" stroke-width="1"/>
<line x1="606.2" y1="801.4" x2="612.4" y2="801.4" stroke="#5a5a5a" stroke-width="1.3"/>
<rect x="598.05" y="809.1" width="22.5" height="13.7" fill="#0a4088" stroke="rgba(30,30,0,0.5)" stroke-width="1.1"/>
<circle cx="609.3" cy="795.8" r="1.7" fill="#2a2a2a"/>
<line x1="609.3" y1="822.8" x2="609.3" y2="825.4" stroke="#7a7a7a" stroke-width="1"/>
<text x="609.3" y="841.6" class="xl">5</text>
<line x1="646.7" y1="814.7" x2="646.7" y2="809.1" stroke="#8a8a8a" stroke-width="1"/>
<line x1="643.6" y1="809.1" x2="649.8" y2="809.1" stroke="#5a5a5a" stroke-width="1.3"/>
<rect x="635.45" y="814.7" width="22.5" height="8.1" fill="#840084" stroke="rgba(30,30,0,0.5)" stroke-width="1.1"/>
<circle cx="646.7" cy="804.1" r="1.7" fill="#2a2a2a"/>
<line x1="646.7" y1="822.8" x2="646.7" y2="825.4" stroke="#7a7a7a" stroke-width="1"/>
<text x="646.7" y="841.6" class="xl">6</text>
<line x1="390.3" y1="621.1" x2="390.3" y2="822.8" stroke="#7a7a7a" stroke-width="1.3"/>
<line x1="389.65" y1="822.8" x2="678.6" y2="822.8" stroke="#7a7a7a" stroke-width="1.3"/>
<line x1="387.3" y1="822.8" x2="390.3" y2="822.8" stroke="#7a7a7a" stroke-width="1"/>
<text x="381.9" y="826.4" class="yl">0</text>
<line x1="387.3" y1="782.56" x2="390.3" y2="782.56" stroke="#7a7a7a" stroke-width="1"/>
<text x="381.9" y="786.16" class="yl">5</text>
<line x1="387.3" y1="742.32" x2="390.3" y2="742.32" stroke="#7a7a7a" stroke-width="1"/>
<text x="381.9" y="745.92" class="yl">10</text>
<line x1="387.3" y1="702.08" x2="390.3" y2="702.08" stroke="#7a7a7a" stroke-width="1"/>
<text x="381.9" y="705.68" class="yl">15</text>
<line x1="387.3" y1="661.84" x2="390.3" y2="661.84" stroke="#7a7a7a" stroke-width="1"/>
<text x="381.9" y="665.44" class="yl">20</text>
<line x1="387.3" y1="621.6" x2="390.3" y2="621.6" stroke="#7a7a7a" stroke-width="1"/>
<text x="381.9" y="625.2" class="yl">25</text>
<text x="534.75" y="859.2" class="day">Day</text>
<text transform="translate(366,723.5) rotate(-90)" x="0" y="0" class="yt" textLength="167.7" lengthAdjust="spacingAndGlyphs">α-Ketoisocaproic acid</text></g>
<text transform="translate(343.05,612.6) scale(1.013,1)" font-size="43.33" font-weight="bold" fill="#0a0a0a" stroke="#0a0a0a" stroke-width="0.8" stroke-linejoin="round">H</text>
<g><g fill="none" stroke="#222" stroke-width="1.4" stroke-linecap="butt" stroke-linejoin="round"><path d="M515,693.9 L542.4,679 L568.9,693.9 L595.5,679 L622.9,693.9 L647,679"/><path d="M542.4,679 L542.4,647.5"/><path d="M593.4,679.6 L593.4,652.4"/><path d="M597.8,679.6 L597.8,652.4"/><path d="M620.6,693.9 L620.6,722.2"/><path d="M624.9,693.9 L624.9,722.2"/></g><g fill="#222"><text x="588.94" y="649.45" font-size="16.8">O</text><text x="615.54" y="736.7" font-size="16.8">O</text><text x="649.14" y="680.2" font-size="16.8">OH</text></g></g>
<g id="pI"><line x1="765.2" y1="758.1" x2="765.2" y2="737.2" stroke="#8a8a8a" stroke-width="1"/>
<line x1="762.1" y1="737.2" x2="768.3" y2="737.2" stroke="#5a5a5a" stroke-width="1.3"/>
<rect x="753.95" y="758.1" width="22.5" height="64.1" fill="#860000" stroke="rgba(30,30,0,0.5)" stroke-width="1.1"/>
<line x1="765.2" y1="822.2" x2="765.2" y2="824.8" stroke="#7a7a7a" stroke-width="1"/>
<text x="765.2" y="840.35" class="xl">0</text>
<line x1="801.7" y1="668" x2="801.7" y2="656.3" stroke="#8a8a8a" stroke-width="1"/>
<line x1="798.6" y1="656.3" x2="804.8" y2="656.3" stroke="#5a5a5a" stroke-width="1.3"/>
<rect x="790.45" y="668" width="22.5" height="154.2" fill="#ff8200" stroke="rgba(30,30,0,0.5)" stroke-width="1.1"/>
<circle cx="801.7" cy="651.6" r="1.7" fill="#2a2a2a"/>
<line x1="801.7" y1="822.2" x2="801.7" y2="824.8" stroke="#7a7a7a" stroke-width="1"/>
<text x="801.7" y="840.35" class="xl">1</text>
<line x1="838.2" y1="755.7" x2="838.2" y2="694.2" stroke="#8a8a8a" stroke-width="1"/>
<line x1="835.1" y1="694.2" x2="841.3" y2="694.2" stroke="#5a5a5a" stroke-width="1.3"/>
<rect x="826.95" y="755.7" width="22.5" height="66.5" fill="#c4c300" stroke="rgba(30,30,0,0.5)" stroke-width="1.1"/>
<line x1="838.2" y1="822.2" x2="838.2" y2="824.8" stroke="#7a7a7a" stroke-width="1"/>
<text x="838.2" y="840.35" class="xl">2</text>
<line x1="874.7" y1="779.9" x2="874.7" y2="740.6" stroke="#8a8a8a" stroke-width="1"/>
<line x1="871.6" y1="740.6" x2="877.8" y2="740.6" stroke="#5a5a5a" stroke-width="1.3"/>
<rect x="863.45" y="779.9" width="22.5" height="42.3" fill="#028002" stroke="rgba(30,30,0,0.5)" stroke-width="1.1"/>
<line x1="874.7" y1="822.2" x2="874.7" y2="824.8" stroke="#7a7a7a" stroke-width="1"/>
<text x="874.7" y="840.35" class="xl">3</text>
<line x1="911.2" y1="787.3" x2="911.2" y2="765.5" stroke="#8a8a8a" stroke-width="1"/>
<line x1="908.1" y1="765.5" x2="914.3" y2="765.5" stroke="#5a5a5a" stroke-width="1.3"/>
<rect x="899.95" y="787.3" width="22.5" height="34.9" fill="#088080" stroke="rgba(30,30,0,0.5)" stroke-width="1.1"/>
<line x1="911.2" y1="822.2" x2="911.2" y2="824.8" stroke="#7a7a7a" stroke-width="1"/>
<text x="911.2" y="840.35" class="xl">4</text>
<line x1="947.7" y1="785" x2="947.7" y2="752" stroke="#8a8a8a" stroke-width="1"/>
<line x1="944.6" y1="752" x2="950.8" y2="752" stroke="#5a5a5a" stroke-width="1.3"/>
<rect x="936.45" y="785" width="22.5" height="37.2" fill="#0a4088" stroke="rgba(30,30,0,0.5)" stroke-width="1.1"/>
<line x1="947.7" y1="822.2" x2="947.7" y2="824.8" stroke="#7a7a7a" stroke-width="1"/>
<text x="947.7" y="840.35" class="xl">5</text>
<line x1="984.2" y1="754" x2="984.2" y2="712.7" stroke="#8a8a8a" stroke-width="1"/>
<line x1="981.1" y1="712.7" x2="987.3" y2="712.7" stroke="#5a5a5a" stroke-width="1.3"/>
<rect x="972.95" y="754" width="22.5" height="68.2" fill="#840084" stroke="rgba(30,30,0,0.5)" stroke-width="1.1"/>
<line x1="984.2" y1="822.2" x2="984.2" y2="824.8" stroke="#7a7a7a" stroke-width="1"/>
<text x="984.2" y="840.35" class="xl">6</text>
<line x1="733.4" y1="623.6" x2="733.4" y2="822.2" stroke="#7a7a7a" stroke-width="1.3"/>
<line x1="732.75" y1="822.2" x2="1015.8" y2="822.2" stroke="#7a7a7a" stroke-width="1.3"/>
<line x1="730.4" y1="822.2" x2="733.4" y2="822.2" stroke="#7a7a7a" stroke-width="1"/>
<text x="725" y="825.8" class="yl">0</text>
<line x1="730.4" y1="782.58" x2="733.4" y2="782.58" stroke="#7a7a7a" stroke-width="1"/>
<text x="725" y="786.18" class="yl">100</text>
<line x1="730.4" y1="742.96" x2="733.4" y2="742.96" stroke="#7a7a7a" stroke-width="1"/>
<text x="725" y="746.56" class="yl">200</text>
<line x1="730.4" y1="703.34" x2="733.4" y2="703.34" stroke="#7a7a7a" stroke-width="1"/>
<text x="725" y="706.94" class="yl">300</text>
<line x1="730.4" y1="663.72" x2="733.4" y2="663.72" stroke="#7a7a7a" stroke-width="1"/>
<text x="725" y="667.32" class="yl">400</text>
<line x1="730.4" y1="624.1" x2="733.4" y2="624.1" stroke="#7a7a7a" stroke-width="1"/>
<text x="725" y="627.7" class="yl">500</text>
<text x="874.85" y="857.6" class="day">Day</text>
<text transform="translate(703.9,724) rotate(-90)" x="0" y="0" class="yt" textLength="90" lengthAdjust="spacingAndGlyphs">Pyruvic acid</text></g>
<text transform="translate(684,614.9) scale(0.932,1)" font-size="49.57" font-weight="bold" fill="#0a0a0a" stroke="#0a0a0a" stroke-width="0.6" stroke-linejoin="round">I</text>
<g><g fill="none" stroke="#222" stroke-width="1.4" stroke-linecap="butt" stroke-linejoin="round"><path d="M869.3,694.3 L899.6,677.2 L930.4,694.3 L957.8,678.5"/><path d="M897.8,677.8 L897.8,646.9"/><path d="M902.3,677.8 L902.3,646.9"/><path d="M928.4,694.3 L928.4,724.3"/><path d="M932.3,694.3 L932.3,724.3"/></g><g fill="#222"><text x="894.47" y="644.13" font-size="15.3">O</text><text x="924.52" y="737.83" font-size="15.3">O</text><text x="959.04" y="680.08" font-size="15.3">OH</text></g></g>
<g id="pJ"><line x1="88.35" y1="1068.9" x2="88.35" y2="1059.9" stroke="#8a8a8a" stroke-width="1"/>
<line x1="85.25" y1="1059.9" x2="91.45" y2="1059.9" stroke="#5a5a5a" stroke-width="1.3"/>
<rect x="77.35" y="1068.9" width="22" height="48.9" fill="#860000" stroke="rgba(30,30,0,0.5)" stroke-width="1.1"/>
<line x1="88.35" y1="1117.8" x2="88.35" y2="1120.4" stroke="#7a7a7a" stroke-width="1"/>
<text x="88.35" y="1135.75" class="xl">0</text>
<line x1="124.28" y1="1080.8" x2="124.28" y2="1071.5" stroke="#8a8a8a" stroke-width="1"/>
<line x1="121.18" y1="1071.5" x2="127.38" y2="1071.5" stroke="#5a5a5a" stroke-width="1.3"/>
<rect x="113.28" y="1080.8" width="22" height="37" fill="#ff8200" stroke="rgba(30,30,0,0.5)" stroke-width="1.1"/>
<line x1="124.28" y1="1117.8" x2="124.28" y2="1120.4" stroke="#7a7a7a" stroke-width="1"/>
<text x="124.28" y="1135.75" class="xl">1</text>
<line x1="160.21" y1="1080.1" x2="160.21" y2="1077.2" stroke="#8a8a8a" stroke-width="1"/>
<line x1="157.11" y1="1077.2" x2="163.31" y2="1077.2" stroke="#5a5a5a" stroke-width="1.3"/>
<rect x="149.21" y="1080.1" width="22" height="37.7" fill="#c4c300" stroke="rgba(30,30,0,0.5)" stroke-width="1.1"/>
<circle cx="160.21" cy="1072.2" r="1.7" fill="#2a2a2a"/>
<line x1="160.21" y1="1117.8" x2="160.21" y2="1120.4" stroke="#7a7a7a" stroke-width="1"/>
<text x="160.21" y="1135.75" class="xl">2</text>
<line x1="196.14" y1="1082.8" x2="196.14" y2="1073.2" stroke="#8a8a8a" stroke-width="1"/>
<line x1="193.04" y1="1073.2" x2="199.24" y2="1073.2" stroke="#5a5a5a" stroke-width="1.3"/>
<rect x="185.14" y="1082.8" width="22" height="35" fill="#028002" stroke="rgba(30,30,0,0.5)" stroke-width="1.1"/>
<circle cx="196.14" cy="1068.2" r="1.7" fill="#2a2a2a"/>
<line x1="196.14" y1="1117.8" x2="196.14" y2="1120.4" stroke="#7a7a7a" stroke-width="1"/>
<text x="196.14" y="1135.75" class="xl">3</text>
<line x1="232.07" y1="1084.8" x2="232.07" y2="1077.2" stroke="#8a8a8a" stroke-width="1"/>
<line x1="228.97" y1="1077.2" x2="235.17" y2="1077.2" stroke="#5a5a5a" stroke-width="1.3"/>
<rect x="221.07" y="1084.8" width="22" height="33" fill="#088080" stroke="rgba(30,30,0,0.5)" stroke-width="1.1"/>
<circle cx="232.07" cy="1072.2" r="1.7" fill="#2a2a2a"/>
<line x1="232.07" y1="1117.8" x2="232.07" y2="1120.4" stroke="#7a7a7a" stroke-width="1"/>
<text x="232.07" y="1135.75" class="xl">4</text>
<line x1="268" y1="1039.3" x2="268" y2="971.2" stroke="#8a8a8a" stroke-width="1"/>
<line x1="264.9" y1="971.2" x2="271.1" y2="971.2" stroke="#5a5a5a" stroke-width="1.3"/>
<rect x="257" y="1039.3" width="22" height="78.5" fill="#0a4088" stroke="rgba(30,30,0,0.5)" stroke-width="1.1"/>
<line x1="268" y1="1117.8" x2="268" y2="1120.4" stroke="#7a7a7a" stroke-width="1"/>
<text x="268" y="1135.75" class="xl">5</text>
<line x1="303.93" y1="978.5" x2="303.93" y2="937.7" stroke="#8a8a8a" stroke-width="1"/>
<line x1="300.83" y1="937.7" x2="307.03" y2="937.7" stroke="#5a5a5a" stroke-width="1.3"/>
<rect x="292.93" y="978.5" width="22" height="139.3" fill="#840084" stroke="rgba(30,30,0,0.5)" stroke-width="1.1"/>
<circle cx="303.93" cy="933.4" r="1.7" fill="#2a2a2a"/>
<line x1="303.93" y1="1117.8" x2="303.93" y2="1120.4" stroke="#7a7a7a" stroke-width="1"/>
<text x="303.93" y="1135.75" class="xl">6</text>
<line x1="57.5" y1="923.6" x2="57.5" y2="1117.8" stroke="#7a7a7a" stroke-width="1.3"/>
<line x1="56.85" y1="1117.8" x2="334.4" y2="1117.8" stroke="#7a7a7a" stroke-width="1.3"/>
<line x1="54.5" y1="1117.8" x2="57.5" y2="1117.8" stroke="#7a7a7a" stroke-width="1"/>
<text x="49.1" y="1121.4" class="yl">0</text>
<line x1="54.5" y1="1069.38" x2="57.5" y2="1069.38" stroke="#7a7a7a" stroke-width="1"/>
<text x="49.1" y="1072.97" class="yl">50</text>
<line x1="54.5" y1="1020.95" x2="57.5" y2="1020.95" stroke="#7a7a7a" stroke-width="1"/>
<text x="49.1" y="1024.55" class="yl">100</text>
<line x1="54.5" y1="972.52" x2="57.5" y2="972.52" stroke="#7a7a7a" stroke-width="1"/>
<text x="49.1" y="976.12" class="yl">150</text>
<line x1="54.5" y1="924.1" x2="57.5" y2="924.1" stroke="#7a7a7a" stroke-width="1"/>
<text x="49.1" y="927.7" class="yl">200</text>
<text x="196.3" y="1151.1" class="day">Day</text>
<text transform="translate(28.6,1019.9) rotate(-90)" x="0" y="0" class="yt" textLength="78" lengthAdjust="spacingAndGlyphs">Lactic acid</text></g>
<path d="M27.4,875.9 V902.6 Q27.4,909.6 20.6,909.6 H15.7" fill="none" stroke="#0a0a0a" stroke-width="7.3"/>
<g><g fill="none" stroke="#3a3a3a" stroke-width="1.3" stroke-linecap="butt" stroke-linejoin="round"><path d="M112.3,998.6 L141.1,983.5 L170.5,1000.4 L198.5,984.2"/><path d="M170.5,1000.4 L170.5,1034.1"/><path d="M139,984 L139,955.3"/><path d="M143.1,984 L143.1,955.3"/></g><g fill="#3a3a3a"><text x="136.1" y="953.15" font-size="12.9">O</text><text x="92.23" y="1007.5" font-size="12.9">HO</text><text x="199.25" y="985.6" font-size="12.9">OH</text></g></g>
<g id="pK"><line x1="425.7" y1="1104.7" x2="425.7" y2="1103.4" stroke="#8a8a8a" stroke-width="1"/>
<line x1="422.6" y1="1103.4" x2="428.8" y2="1103.4" stroke="#5a5a5a" stroke-width="1.3"/>
<rect x="414.55" y="1104.7" width="22.3" height="13.2" fill="#860000" stroke="rgba(30,30,0,0.5)" stroke-width="1.1"/>
<line x1="425.7" y1="1117.9" x2="425.7" y2="1120.5" stroke="#7a7a7a" stroke-width="1"/>
<text x="425.7" y="1136.6" class="xl">0</text>
<line x1="462.35" y1="1100.1" x2="462.35" y2="1099" stroke="#8a8a8a" stroke-width="1"/>
<line x1="459.25" y1="1099" x2="465.45" y2="1099" stroke="#5a5a5a" stroke-width="1.3"/>
<rect x="451.2" y="1100.1" width="22.3" height="17.8" fill="#ff8200" stroke="rgba(30,30,0,0.5)" stroke-width="1.1"/>
<circle cx="462.35" cy="1095.4" r="1.7" fill="#2a2a2a"/>
<line x1="462.35" y1="1117.9" x2="462.35" y2="1120.5" stroke="#7a7a7a" stroke-width="1"/>
<text x="462.35" y="1136.6" class="xl">1</text>
<line x1="499" y1="1093.1" x2="499" y2="1089.4" stroke="#8a8a8a" stroke-width="1"/>
<line x1="495.9" y1="1089.4" x2="502.1" y2="1089.4" stroke="#5a5a5a" stroke-width="1.3"/>
<rect x="487.85" y="1093.1" width="22.3" height="24.8" fill="#c4c300" stroke="rgba(30,30,0,0.5)" stroke-width="1.1"/>
<line x1="499" y1="1117.9" x2="499" y2="1120.5" stroke="#7a7a7a" stroke-width="1"/>
<text x="499" y="1136.6" class="xl">2</text>
<line x1="535.65" y1="1092.1" x2="535.65" y2="1082.1" stroke="#8a8a8a" stroke-width="1"/>
<line x1="532.55" y1="1082.1" x2="538.75" y2="1082.1" stroke="#5a5a5a" stroke-width="1.3"/>
<rect x="524.5" y="1092.1" width="22.3" height="25.8" fill="#028002" stroke="rgba(30,30,0,0.5)" stroke-width="1.1"/>
<circle cx="535.65" cy="1077.2" r="1.7" fill="#2a2a2a"/>
<line x1="535.65" y1="1117.9" x2="535.65" y2="1120.5" stroke="#7a7a7a" stroke-width="1"/>
<text x="535.65" y="1136.6" class="xl">3</text>
<line x1="572.3" y1="1082.8" x2="572.3" y2="1071.5" stroke="#8a8a8a" stroke-width="1"/>
<line x1="569.2" y1="1071.5" x2="575.4" y2="1071.5" stroke="#5a5a5a" stroke-width="1.3"/>
<rect x="561.15" y="1082.8" width="22.3" height="35.1" fill="#088080" stroke="rgba(30,30,0,0.5)" stroke-width="1.1"/>
<line x1="572.3" y1="1117.9" x2="572.3" y2="1120.5" stroke="#7a7a7a" stroke-width="1"/>
<text x="572.3" y="1136.6" class="xl">4</text>
<line x1="608.95" y1="1028" x2="608.95" y2="1005.1" stroke="#8a8a8a" stroke-width="1"/>
<line x1="605.85" y1="1005.1" x2="612.05" y2="1005.1" stroke="#5a5a5a" stroke-width="1.3"/>
<rect x="597.8" y="1028" width="22.3" height="89.9" fill="#0a4088" stroke="rgba(30,30,0,0.5)" stroke-width="1.1"/>
<line x1="608.95" y1="1117.9" x2="608.95" y2="1120.5" stroke="#7a7a7a" stroke-width="1"/>
<text x="608.95" y="1136.6" class="xl">5</text>
<line x1="645.6" y1="983.5" x2="645.6" y2="940" stroke="#8a8a8a" stroke-width="1"/>
<line x1="642.5" y1="940" x2="648.7" y2="940" stroke="#5a5a5a" stroke-width="1.3"/>
<rect x="634.45" y="983.5" width="22.3" height="134.4" fill="#840084" stroke="rgba(30,30,0,0.5)" stroke-width="1.1"/>
<circle cx="645.6" cy="933.7" r="1.7" fill="#2a2a2a"/>
<line x1="645.6" y1="1117.9" x2="645.6" y2="1120.5" stroke="#7a7a7a" stroke-width="1"/>
<text x="645.6" y="1136.6" class="xl">6</text>
<line x1="394.2" y1="920" x2="394.2" y2="1117.9" stroke="#7a7a7a" stroke-width="1.3"/>
<line x1="393.55" y1="1117.9" x2="677" y2="1117.9" stroke="#7a7a7a" stroke-width="1.3"/>
<line x1="391.2" y1="1117.9" x2="394.2" y2="1117.9" stroke="#7a7a7a" stroke-width="1"/>
<text x="385.8" y="1121.5" class="yl">0</text>
<line x1="391.2" y1="1085" x2="394.2" y2="1085" stroke="#7a7a7a" stroke-width="1"/>
<text x="385.8" y="1088.6" class="yl">100</text>
<line x1="391.2" y1="1052.1" x2="394.2" y2="1052.1" stroke="#7a7a7a" stroke-width="1"/>
<text x="385.8" y="1055.7" class="yl">200</text>
<line x1="391.2" y1="1019.2" x2="394.2" y2="1019.2" stroke="#7a7a7a" stroke-width="1"/>
<text x="385.8" y="1022.8" class="yl">300</text>
<line x1="391.2" y1="986.3" x2="394.2" y2="986.3" stroke="#7a7a7a" stroke-width="1"/>
<text x="385.8" y="989.9" class="yl">400</text>
<line x1="391.2" y1="953.4" x2="394.2" y2="953.4" stroke="#7a7a7a" stroke-width="1"/>
<text x="385.8" y="957" class="yl">500</text>
<line x1="391.2" y1="920.5" x2="394.2" y2="920.5" stroke="#7a7a7a" stroke-width="1"/>
<text x="385.8" y="924.1" class="yl">600</text>
<text x="535.75" y="1153.8" class="day">Day</text>
<text transform="translate(362.7,1018.3) rotate(-90)" x="0" y="0" class="yt" textLength="81.3" lengthAdjust="spacingAndGlyphs">Acetic acid</text></g>
<text transform="translate(349.82,904.5) scale(0.763,1)" font-size="47.97" font-weight="bold" fill="#0a0a0a" stroke="#0a0a0a" stroke-width="1.4" stroke-linejoin="round">K</text>
<g><g fill="none" stroke="#1a1a1a" stroke-width="1.7" stroke-linecap="butt" stroke-linejoin="round"><path d="M431.6,1012.5 L472,990.4 L513.7,1015.2"/><path d="M468.9,991 L468.9,948.4"/><path d="M475.2,991 L475.2,948.4"/></g><g fill="#1a1a1a"><text x="465.18" y="944.82" font-size="17.6">O</text><text x="515.71" y="1027.47" font-size="17.6">OH</text></g></g>
<g id="pL"><line x1="767.5" y1="1068.9" x2="767.5" y2="1060.5" stroke="#8a8a8a" stroke-width="1"/>
<line x1="764.4" y1="1060.5" x2="770.6" y2="1060.5" stroke="#5a5a5a" stroke-width="1.3"/>
<rect x="756.55" y="1068.9" width="21.9" height="49.1" fill="#860000" stroke="rgba(30,30,0,0.5)" stroke-width="1.1"/>
<line x1="767.5" y1="1118" x2="767.5" y2="1120.6" stroke="#7a7a7a" stroke-width="1"/>
<text x="767.5" y="1136.05" class="xl">0</text>
<line x1="803.5" y1="1109.9" x2="803.5" y2="1107.2" stroke="#8a8a8a" stroke-width="1"/>
<line x1="800.4" y1="1107.2" x2="806.6" y2="1107.2" stroke="#5a5a5a" stroke-width="1.3"/>
<rect x="792.55" y="1109.9" width="21.9" height="8.1" fill="#ff8200" stroke="rgba(30,30,0,0.5)" stroke-width="1.1"/>
<circle cx="803.5" cy="1102.2" r="1.7" fill="#2a2a2a"/>
<line x1="803.5" y1="1118" x2="803.5" y2="1120.6" stroke="#7a7a7a" stroke-width="1"/>
<text x="803.5" y="1136.05" class="xl">1</text>
<line x1="839.5" y1="1111.6" x2="839.5" y2="1110.5" stroke="#8a8a8a" stroke-width="1"/>
<line x1="836.4" y1="1110.5" x2="842.6" y2="1110.5" stroke="#5a5a5a" stroke-width="1.3"/>
<rect x="828.55" y="1111.6" width="21.9" height="6.4" fill="#c4c300" stroke="rgba(30,30,0,0.5)" stroke-width="1.1"/>
<circle cx="839.5" cy="1106.5" r="1.7" fill="#2a2a2a"/>
<line x1="839.5" y1="1118" x2="839.5" y2="1120.6" stroke="#7a7a7a" stroke-width="1"/>
<text x="839.5" y="1136.05" class="xl">2</text>
<line x1="875.5" y1="1113.3" x2="875.5" y2="1112.5" stroke="#8a8a8a" stroke-width="1"/>
<line x1="872.4" y1="1112.5" x2="878.6" y2="1112.5" stroke="#5a5a5a" stroke-width="1.3"/>
<rect x="864.55" y="1113.3" width="21.9" height="4.7" fill="#028002" stroke="rgba(30,30,0,0.5)" stroke-width="1.1"/>
<circle cx="875.5" cy="1107.5" r="1.7" fill="#2a2a2a"/>
<line x1="875.5" y1="1118" x2="875.5" y2="1120.6" stroke="#7a7a7a" stroke-width="1"/>
<text x="875.5" y="1136.05" class="xl">3</text>
<line x1="911.5" y1="1102.2" x2="911.5" y2="1092.4" stroke="#8a8a8a" stroke-width="1"/>
<line x1="908.4" y1="1092.4" x2="914.6" y2="1092.4" stroke="#5a5a5a" stroke-width="1.3"/>
<rect x="900.55" y="1102.2" width="21.9" height="15.8" fill="#088080" stroke="rgba(30,30,0,0.5)" stroke-width="1.1"/>
<circle cx="911.5" cy="1089.1" r="1.7" fill="#2a2a2a"/>
<line x1="911.5" y1="1118" x2="911.5" y2="1120.6" stroke="#7a7a7a" stroke-width="1"/>
<text x="911.5" y="1136.05" class="xl">4</text>
<line x1="947.5" y1="1061.2" x2="947.5" y2="1028.3" stroke="#8a8a8a" stroke-width="1"/>
<line x1="944.4" y1="1028.3" x2="950.6" y2="1028.3" stroke="#5a5a5a" stroke-width="1.3"/>
<rect x="936.55" y="1061.2" width="21.9" height="56.8" fill="#0a4088" stroke="rgba(30,30,0,0.5)" stroke-width="1.1"/>
<circle cx="947.5" cy="1023.6" r="1.7" fill="#2a2a2a"/>
<line x1="947.5" y1="1118" x2="947.5" y2="1120.6" stroke="#7a7a7a" stroke-width="1"/>
<text x="947.5" y="1136.05" class="xl">5</text>
<line x1="983.5" y1="962.8" x2="983.5" y2="932.9" stroke="#8a8a8a" stroke-width="1"/>
<line x1="980.4" y1="932.9" x2="986.6" y2="932.9" stroke="#5a5a5a" stroke-width="1.3"/>
<rect x="972.55" y="962.8" width="21.9" height="155.2" fill="#840084" stroke="rgba(30,30,0,0.5)" stroke-width="1.1"/>
<circle cx="983.5" cy="927.8" r="1.7" fill="#2a2a2a"/>
<line x1="983.5" y1="1118" x2="983.5" y2="1120.6" stroke="#7a7a7a" stroke-width="1"/>
<text x="983.5" y="1136.05" class="xl">6</text>
<line x1="736.8" y1="923.6" x2="736.8" y2="1118" stroke="#7a7a7a" stroke-width="1.3"/>
<line x1="736.15" y1="1118" x2="1014.4" y2="1118" stroke="#7a7a7a" stroke-width="1.3"/>
<line x1="733.8" y1="1118" x2="736.8" y2="1118" stroke="#7a7a7a" stroke-width="1"/>
<text x="728.4" y="1121.6" class="yl">0</text>
<line x1="733.8" y1="1069.53" x2="736.8" y2="1069.53" stroke="#7a7a7a" stroke-width="1"/>
<text x="728.4" y="1073.12" class="yl">50</text>
<line x1="733.8" y1="1021.05" x2="736.8" y2="1021.05" stroke="#7a7a7a" stroke-width="1"/>
<text x="728.4" y="1024.65" class="yl">100</text>
<line x1="733.8" y1="972.58" x2="736.8" y2="972.58" stroke="#7a7a7a" stroke-width="1"/>
<text x="728.4" y="976.18" class="yl">150</text>
<line x1="733.8" y1="924.1" x2="736.8" y2="924.1" stroke="#7a7a7a" stroke-width="1"/>
<text x="728.4" y="927.7" class="yl">200</text>
<text x="876" y="1152.5" class="day">Day</text>
<text transform="translate(706.2,1020.9) rotate(-90)" x="0" y="0" class="yt" textLength="57" lengthAdjust="spacingAndGlyphs">Acetoin</text></g>
<text transform="translate(684.06,907.1) scale(0.803,1)" font-size="56.38" font-weight="bold" fill="#0a0a0a" stroke="#0a0a0a" stroke-width="1.2" stroke-linejoin="round">L</text>
<g><g fill="none" stroke="#333" stroke-width="1.3" stroke-linecap="butt" stroke-linejoin="round"><path d="M784.3,959.3 L800.7,986.3 L840.5,986.3 L860.5,952.3"/><path d="M800.7,986.3 L781.4,1020.9"/><path d="M840.5,986.3 L861,1016.6"/><path d="M837.4,989.6 L856.7,1019.4"/></g><g fill="#333"><text x="763.48" y="957.64" font-size="14.6">HO</text><text x="856.99" y="1030.29" font-size="14.6">O</text></g></g>
</svg>
</body></html>
